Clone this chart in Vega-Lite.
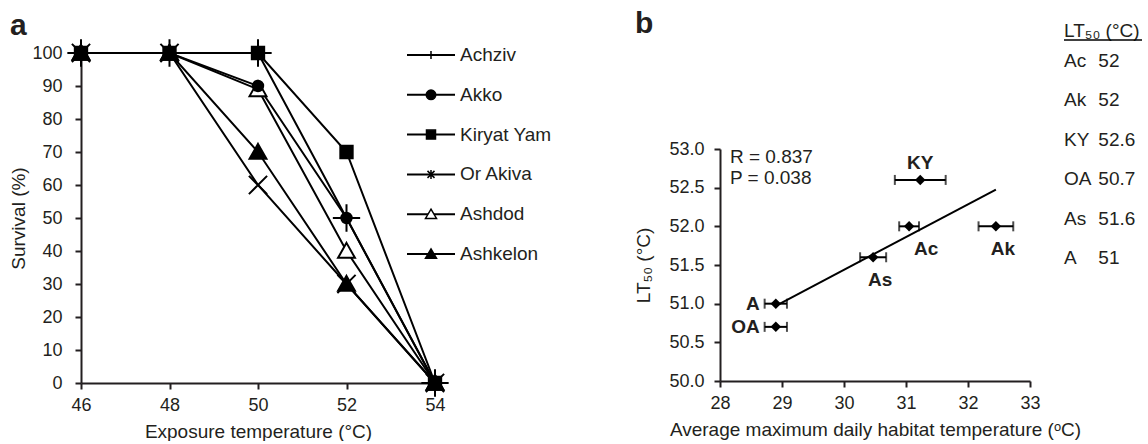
{
  "$schema": "https://vega.github.io/schema/vega-lite/v6.json",
  "padding": {"left": 9, "top": 9, "right": 0, "bottom": 0},
  "spacing": 82,
  "config": {
    "font": "Liberation Sans",
    "view": {"stroke": null},
    "axis": {"grid": false, "domainColor": "#231f20", "domainWidth": 2, "tickColor": "#231f20", "tickWidth": 2, "tickSize": 6, "labelFontSize": 18, "labelColor": "#231f20", "titleFontSize": 19, "titleColor": "#231f20", "titleFontWeight": "normal", "labelFont": "Liberation Sans", "titleFont": "Liberation Sans", "labelFlush": false, "labelOverlap": false},
    "axisX": {"titlePadding": 8, "labelPadding": 7},
    "text": {"font": "Liberation Sans", "color": "#231f20"},
    "title": {"font": "Liberation Sans", "color": "#231f20"}
  },
  "hconcat": [
    {
      "width": 354,
      "height": 330,
      "title": {"text": "a", "anchor": "start", "frame": "bounds", "fontSize": 30, "fontWeight": "bold", "offset": -6},
      "data": {"values": [
        {"site": "Ashdod", "temp": 46, "survival": 100},
        {"site": "Ashdod", "temp": 48, "survival": 100},
        {"site": "Ashdod", "temp": 50, "survival": 89},
        {"site": "Ashdod", "temp": 52, "survival": 40},
        {"site": "Ashdod", "temp": 54, "survival": 0},
        {"site": "Achziv", "temp": 46, "survival": 100},
        {"site": "Achziv", "temp": 48, "survival": 100},
        {"site": "Achziv", "temp": 50, "survival": 100},
        {"site": "Achziv", "temp": 52, "survival": 50},
        {"site": "Achziv", "temp": 54, "survival": 0},
        {"site": "Akko", "temp": 46, "survival": 100},
        {"site": "Akko", "temp": 48, "survival": 100},
        {"site": "Akko", "temp": 50, "survival": 90},
        {"site": "Akko", "temp": 52, "survival": 50},
        {"site": "Akko", "temp": 54, "survival": 0},
        {"site": "Kiryat Yam", "temp": 46, "survival": 100},
        {"site": "Kiryat Yam", "temp": 48, "survival": 100},
        {"site": "Kiryat Yam", "temp": 50, "survival": 100},
        {"site": "Kiryat Yam", "temp": 52, "survival": 70},
        {"site": "Kiryat Yam", "temp": 54, "survival": 0},
        {"site": "Or Akiva", "temp": 46, "survival": 100},
        {"site": "Or Akiva", "temp": 48, "survival": 100},
        {"site": "Or Akiva", "temp": 50, "survival": 60},
        {"site": "Or Akiva", "temp": 52, "survival": 30},
        {"site": "Or Akiva", "temp": 54, "survival": 0},
        {"site": "Ashkelon", "temp": 46, "survival": 100},
        {"site": "Ashkelon", "temp": 48, "survival": 100},
        {"site": "Ashkelon", "temp": 50, "survival": 70},
        {"site": "Ashkelon", "temp": 52, "survival": 30},
        {"site": "Ashkelon", "temp": 54, "survival": 0}
      ]},
      "resolve": {"scale": {"x": "independent", "y": "independent", "shape": "independent", "fill": "independent"}, "axis": {"x": "independent", "y": "independent"}},
      "layer": [
        {
          "encoding": {
            "x": {"field": "temp", "type": "quantitative", "scale": {"domain": [46, 54], "nice": false, "zero": false}, "axis": {"values": [46, 48, 50, 52, 54], "title": "Exposure temperature (°C)"}},
            "y": {"field": "survival", "type": "quantitative", "scale": {"domain": [0, 100], "nice": false}, "axis": {"values": [0, 10, 20, 30, 40, 50, 60, 70, 80, 90, 100], "title": "Survival (%)", "labelPadding": 13, "titlePadding": 3}}
          },
          "layer": [
            {"mark": {"type": "line", "color": "black", "strokeWidth": 2}, "encoding": {"detail": {"field": "site"}}},
            {
              "mark": {"type": "point", "filled": true, "size": 169, "stroke": "black", "strokeWidth": 2, "opacity": 1},
              "encoding": {
                "shape": {"field": "site", "type": "nominal", "legend": null,
                  "scale": {"domain": ["Achziv", "Akko", "Kiryat Yam", "Or Akiva", "Ashdod", "Ashkelon"],
                    "range": ["M-2.1,0H2.1M0,-2.1V2.1", "M-0.8,0A0.8,0.8,0,1,1,0.8,0A0.8,0.8,0,1,1,-0.8,0Z", "M-0.95,-0.95H0.95V0.95H-0.95Z", "M-1.4,-1.4L1.4,1.4M-1.4,1.4L1.4,-1.4", "M0,-1.25L1.3,1.05H-1.3Z", "M0,-1.25L1.3,1.05H-1.3Z"]}},
                "fill": {"field": "site", "type": "nominal", "legend": null,
                  "scale": {"domain": ["Achziv", "Akko", "Kiryat Yam", "Or Akiva", "Ashdod", "Ashkelon"], "range": ["black", "black", "black", "black", "white", "black"]}}
              }
            }
          ]
        },
        {
          "transform": [{"filter": "datum.temp == 46"}],
          "encoding": {
            "y": {"field": "site", "type": "nominal", "scale": {"type": "point", "padding": 0, "domain": ["Achziv", "Akko", "Kiryat Yam", "Or Akiva", "Ashdod", "Ashkelon"], "range": [2, 201]}, "axis": null}
          },
          "layer": [
            {"mark": {"type": "rule", "color": "black", "strokeWidth": 2},
              "encoding": {"x": {"datum": 0, "type": "quantitative", "scale": {"domain": [0, 100], "range": [326, 374]}, "axis": null}, "x2": {"datum": 100}}},
            {"mark": {"type": "point", "filled": true, "size": 100, "stroke": "black", "strokeWidth": 1.5, "opacity": 1},
              "encoding": {
                "x": {"datum": 50, "type": "quantitative"},
                "shape": {"field": "site", "type": "nominal", "legend": null,
                  "scale": {"domain": ["Achziv", "Akko", "Kiryat Yam", "Or Akiva", "Ashdod", "Ashkelon"],
                    "range": ["M0,-0.8V0.8", "M-0.95,0A0.95,0.95,0,1,1,0.95,0A0.95,0.95,0,1,1,-0.95,0Z", "M-0.9,-0.9H0.9V0.9H-0.9Z", "M-0.7,-0.7L0.7,0.7M-0.7,0.7L0.7,-0.7M0,-0.9V0.9", "M0,-1L1.1,0.85H-1.1Z", "M0,-1L1.1,0.85H-1.1Z"]}},
                "fill": {"field": "site", "type": "nominal", "legend": null,
                  "scale": {"domain": ["Achziv", "Akko", "Kiryat Yam", "Or Akiva", "Ashdod", "Ashkelon"], "range": ["black", "black", "black", "black", "white", "black"]}}
              }},
            {"mark": {"type": "text", "fontSize": 19, "align": "left", "baseline": "middle", "dx": 5},
              "encoding": {"x": {"datum": 100, "type": "quantitative"}, "text": {"field": "site"}}}
          ]
        }
      ]
    },
    {
      "width": 310,
      "height": 328,
      "title": {"text": "b", "anchor": "start", "frame": "bounds", "fontSize": 30, "fontWeight": "bold", "offset": -17},
      "data": {"values": [
        {"abbr": "Ac", "temp": 31.05, "err": 0.16, "lt50": 52.0},
        {"abbr": "Ak", "temp": 32.45, "err": 0.28, "lt50": 52.0},
        {"abbr": "KY", "temp": 31.23, "err": 0.41, "lt50": 52.6},
        {"abbr": "OA", "temp": 28.9, "err": 0.18, "lt50": 50.7},
        {"abbr": "As", "temp": 30.47, "err": 0.21, "lt50": 51.6},
        {"abbr": "A", "temp": 28.9, "err": 0.18, "lt50": 51.0}
      ]},
      "resolve": {"scale": {"x": "independent", "y": "independent"}, "axis": {"x": "independent", "y": "independent"}},
      "layer": [
        {
          "encoding": {
            "x": {"field": "temp", "type": "quantitative", "scale": {"domain": [28, 33], "nice": false, "zero": false}, "axis": {"values": [28, 29, 30, 31, 32, 33], "title": "Average maximum daily habitat temperature (ᵒC)"}},
            "y": {"field": "lt50", "type": "quantitative", "scale": {"domain": [50, 53], "nice": false, "zero": false, "range": [328, 96]}, "axis": {"values": [50, 50.5, 51, 51.5, 52, 52.5, 53], "format": ".1f", "title": "LT₅₀ (°C)", "labelPadding": 10, "titlePadding": 15}}
          },
          "layer": [
            {"transform": [{"regression": "lt50", "on": "temp"}], "mark": {"type": "line", "color": "black", "strokeWidth": 2}},
            {"mark": {"type": "errorbar", "ticks": true, "thickness": 2, "size": 10, "color": "black"}, "encoding": {"xError": {"field": "err"}}},
            {"mark": {"type": "point", "shape": "diamond", "filled": true, "size": 110, "color": "black", "opacity": 1}},
            {"transform": [{"filter": "datum.abbr == 'KY'"}], "mark": {"type": "text", "fontWeight": "bold", "fontSize": 19, "dy": -17}, "encoding": {"text": {"field": "abbr"}}},
            {"transform": [{"filter": "datum.abbr == 'Ac'"}], "mark": {"type": "text", "fontWeight": "bold", "fontSize": 19, "dx": 17, "dy": 23}, "encoding": {"text": {"field": "abbr"}}},
            {"transform": [{"filter": "datum.abbr == 'Ak' || datum.abbr == 'As'"}], "mark": {"type": "text", "fontWeight": "bold", "fontSize": 19, "dx": 7, "dy": 23}, "encoding": {"text": {"field": "abbr"}}},
            {"transform": [{"filter": "datum.abbr == 'A' || datum.abbr == 'OA'"}], "mark": {"type": "text", "fontWeight": "bold", "fontSize": 19, "align": "right", "dx": -16}, "encoding": {"text": {"field": "abbr"}}},
            {"transform": [{"filter": "datum.abbr == 'KY'"}], "mark": {"type": "text", "fontSize": 19, "align": "left", "baseline": "middle"}, "encoding": {"x": {"datum": 28.16, "type": "quantitative"}, "y": {"datum": 52.9, "type": "quantitative"}, "text": {"value": "R = 0.837"}}},
            {"transform": [{"filter": "datum.abbr == 'KY'"}], "mark": {"type": "text", "fontSize": 19, "align": "left", "baseline": "middle"}, "encoding": {"x": {"datum": 28.16, "type": "quantitative"}, "y": {"datum": 52.625, "type": "quantitative"}, "text": {"value": "P = 0.038"}}}
          ]
        },
        {
          "layer": [
            {"mark": {"type": "text", "fontSize": 19, "align": "left", "baseline": "middle"},
              "encoding": {
                "x": {"datum": 0, "type": "quantitative", "scale": {"domain": [0, 100], "range": [344, 422]}, "axis": null},
                "y": {"field": "abbr", "type": "nominal", "scale": {"type": "point", "padding": 0, "domain": ["Ac", "Ak", "KY", "OA", "As", "A"], "range": [8, 205]}, "axis": null},
                "text": {"field": "abbr"}}},
            {"mark": {"type": "text", "fontSize": 19, "align": "left", "baseline": "middle"},
              "encoding": {"x": {"datum": 44, "type": "quantitative"}, "y": {"field": "abbr", "type": "nominal"}, "text": {"field": "lt50", "type": "quantitative"}}},
            {"data": {"values": [{"h": "LT₅₀ (°C)"}]}, "mark": {"type": "text", "fontSize": 19, "align": "left", "baseline": "middle", "dy": -30},
              "encoding": {"x": {"datum": 0, "type": "quantitative"}, "y": {"datum": "Ac", "type": "nominal"}, "text": {"field": "h"}}},
            {"data": {"values": [{"h": "LT₅₀ (°C)"}]}, "mark": {"type": "rule", "color": "black", "strokeWidth": 1.5},
              "encoding": {"x": {"datum": 0, "type": "quantitative"}, "x2": {"datum": 100}, "y": {"datum": "Ac", "type": "nominal"}, "yOffset": {"value": -21}}}
          ]
        }
      ]
    }
  ]
}
